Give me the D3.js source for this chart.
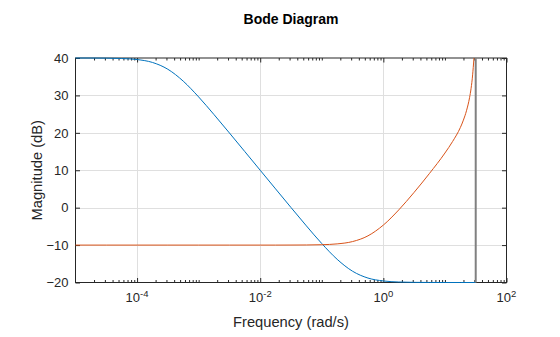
<!DOCTYPE html>
<html>
<head>
<meta charset="utf-8">
<script src="https://cdn.jsdelivr.net/npm/d3@7"></script>
<style>
  html, body { margin: 0; padding: 0; background: #fff; }
  svg { display: block; font-family: "Liberation Sans", Arial, Helvetica, sans-serif; }
</style>
</head>
<body>
<svg id="chart" width="560" height="337"></svg>
<script>
// log10 of frequency (rad/s) and magnitude (dB) for each response
const blueLogW = [-5, -4.75, -4.5, -4.25, -4, -3.75, -3.5, -3.25, -3, -2.75, -2.5, -2.25, -2,
                  -1.75, -1.5, -1.25, -1, -0.75, -0.5, -0.25, 0, 0.25, 0.5, 0.75, 1, 1.25, 1.5];
const blueMag  = [40.0, 39.99, 39.96, 39.86, 39.59, 38.81, 36.99, 33.81, 29.59, 24.87, 19.96, 14.99, 10.0,
                  5.01, 0.04, -4.87, -9.59, -13.81, -16.99, -18.81, -19.59, -19.87, -19.96, -19.99, -20.0, -20.0, -20.0];

const orangeLogW = [-5, -4.5, -4, -3.5, -3, -2.5, -2, -1.75, -1.5, -1.25, -1, -0.75, -0.5, -0.25, 0,
                    0.25, 0.5, 0.75, 1, 1.125, 1.25, 1.3, 1.35, 1.4, 1.425, 1.45, 1.46, 1.472];
const orangeMag  = [-10, -10, -10, -10, -10, -10, -10, -10, -9.99, -9.97, -9.9, -9.68, -9.06, -7.53, -4.65,
                    -0.6, 4.1, 9.17, 14.6, 17.7, 21.4, 23.4, 25.9, 29.4, 31.9, 35.5, 37.5, 40];

// vertical marker at the resonance frequency
const markerLogW = 1.5;

const yTicks = [-20, -10, 0, 10, 20, 30, 40];
const xMajorExp = [-4, -2, 0, 2];
const xDomain = [1e-5, 1e2];
const yDomain = [-20, 40];

const title = "Bode Diagram";
const xLabel = "Frequency (rad/s)";
const yLabel = "Magnitude (dB)";

const colors = { blue: "#0072BD", orange: "#D95319", marker: "#808080", axis: "#262626", grid: "#dfdfdf" };

const m = { left: 75.5, right: 506.5, top: 58, bottom: 282.5 };
const svg = d3.select("#chart");

const x = d3.scaleLog().domain(xDomain).range([m.left, m.right]);
const y = d3.scaleLinear().domain(yDomain).range([m.bottom, m.top]);

// minor ticks: 2..9 times every decade, plus odd decades
const minorTicks = [];
for (let e = -5; e < 2; e++) {
  for (let k = 1; k <= 9; k++) {
    const v = k * Math.pow(10, e);
    if (k === 1 && xMajorExp.includes(e)) continue;
    if (v > xDomain[0] && v < xDomain[1]) minorTicks.push(v);
  }
}
const majorTicks = xMajorExp.map(e => Math.pow(10, e));

// grid
const grid = svg.append("g").attr("stroke", colors.grid).attr("stroke-width", 1).attr("shape-rendering", "crispEdges");
grid.selectAll("line.gx").data(majorTicks.filter(v => v < xDomain[1])).join("line")
  .attr("x1", d => Math.round(x(d)) + 0.5).attr("x2", d => Math.round(x(d)) + 0.5)
  .attr("y1", m.top).attr("y2", m.bottom);
grid.selectAll("line.gy").data(yTicks.filter(v => v > yDomain[0] && v < yDomain[1])).join("line")
  .attr("y1", d => Math.round(y(d)) + 0.5).attr("y2", d => Math.round(y(d)) + 0.5)
  .attr("x1", m.left).attr("x2", m.right);

// axes (ticks pointing inward, box on)
function styleAxis(g) {
  g.select(".domain").remove();
  g.selectAll(".tick line").attr("stroke", colors.axis);
  g.selectAll(".tick text").attr("fill", colors.axis);
}
const fontTick = 13;

const xBottom = svg.append("g").attr("transform", `translate(0,${m.bottom})`)
  .call(d3.axisBottom(x).tickValues(majorTicks).tickSizeInner(-4.5).tickSizeOuter(0).tickFormat(() => ""));
styleAxis(xBottom);
const xBottomMinor = svg.append("g").attr("transform", `translate(0,${m.bottom})`)
  .call(d3.axisBottom(x).tickValues(minorTicks).tickSizeInner(-2.5).tickSizeOuter(0).tickFormat(() => ""));
styleAxis(xBottomMinor);
const xTop = svg.append("g").attr("transform", `translate(0,${m.top})`)
  .call(d3.axisTop(x).tickValues(majorTicks).tickSizeInner(-4.5).tickSizeOuter(0).tickFormat(() => ""));
styleAxis(xTop);
const xTopMinor = svg.append("g").attr("transform", `translate(0,${m.top})`)
  .call(d3.axisTop(x).tickValues(minorTicks).tickSizeInner(-2.5).tickSizeOuter(0).tickFormat(() => ""));
styleAxis(xTopMinor);

const yLeft = svg.append("g").attr("transform", `translate(${m.left},0)`)
  .call(d3.axisLeft(y).tickValues(yTicks).tickSizeInner(-4.5).tickSizeOuter(0).tickPadding(7));
styleAxis(yLeft);
yLeft.selectAll(".tick text").attr("font-size", fontTick).attr("font-family", null);
const yRight = svg.append("g").attr("transform", `translate(${m.right},0)`)
  .call(d3.axisRight(y).tickValues(yTicks).tickSizeInner(-4.5).tickSizeOuter(0).tickFormat(() => ""));
styleAxis(yRight);

// x tick labels as powers of ten
const xl = svg.append("g").attr("fill", colors.axis).attr("font-size", fontTick);
majorTicks.forEach((v, i) => {
  const t = xl.append("text").attr("x", x(v)).attr("y", m.bottom + 19.5).attr("text-anchor", "middle");
  t.append("tspan").text("10");
  t.append("tspan").attr("font-size", 9.5).attr("dy", -5.5).text(String(xMajorExp[i]));
});

// box
svg.append("rect").attr("x", m.left).attr("y", m.top)
  .attr("width", m.right - m.left).attr("height", m.bottom - m.top)
  .attr("fill", "none").attr("stroke", colors.axis).attr("stroke-width", 1);

// responses
const line = d3.line().x(d => x(Math.pow(10, d[0]))).y(d => y(d[1])).curve(d3.curveMonotoneX);
svg.append("path").datum(blueLogW.map((w, i) => [w, blueMag[i]]))
  .attr("d", line).attr("fill", "none").attr("stroke", colors.blue).attr("stroke-width", 1);
svg.append("path").datum(orangeLogW.map((w, i) => [w, orangeMag[i]]))
  .attr("d", line).attr("fill", "none").attr("stroke", colors.orange).attr("stroke-width", 1);

svg.append("line")
  .attr("x1", x(Math.pow(10, markerLogW))).attr("x2", x(Math.pow(10, markerLogW)))
  .attr("y1", y(yDomain[0])).attr("y2", y(yDomain[1]))
  .attr("stroke", colors.marker).attr("stroke-width", 2);

// titles
svg.append("text").attr("x", (m.left + m.right) / 2).attr("y", 24)
  .attr("text-anchor", "middle").attr("font-size", 14).attr("font-weight", "bold")
  .attr("fill", "#000").text(title);
svg.append("text").attr("x", (m.left + m.right) / 2).attr("y", 327)
  .attr("text-anchor", "middle").attr("font-size", 14.7).attr("fill", colors.axis).text(xLabel);
svg.append("text").attr("transform", `translate(42,${(m.top + m.bottom) / 2}) rotate(-90)`)
  .attr("text-anchor", "middle").attr("font-size", 14.7).attr("fill", colors.axis).text(yLabel);
</script>
</body>
</html>
